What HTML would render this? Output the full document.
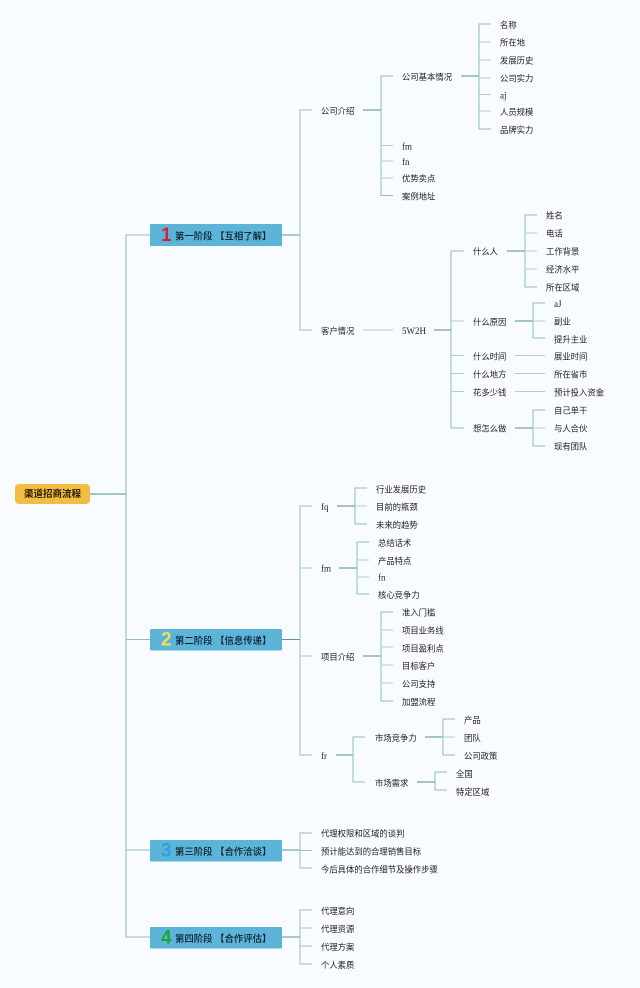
<!DOCTYPE html>
<html lang="zh"><head><meta charset="utf-8"><title>渠道招商流程</title>
<style>
html,body{margin:0;padding:0;background:#f8fbff;width:640px;height:988px;overflow:hidden}
svg{display:block;filter:blur(.3px)}
text{font-family:"Liberation Sans","Noto Sans CJK SC",sans-serif;font-size:8.35px;fill:#222;dominant-baseline:central}
.s{font-family:"Liberation Serif","Noto Serif CJK SC",serif;font-size:9px}
.n{font-size:9.4px;fill:#0d1d2b;font-weight:500}
.d{stroke:#4f8f84;fill:none;stroke-width:1}
.v{stroke:#8dbdb5;fill:none;stroke-width:1}
.h{stroke:#aed0ca;fill:none;stroke-width:1}
.g{stroke:#9dbdbd;fill:none;stroke-width:1}
.big{font-weight:bold;font-size:19px}
</style></head><body>
<svg width="640" height="988" viewBox="0 0 640 988" xmlns="http://www.w3.org/2000/svg">
<!-- trunk -->
<path d="M90 494H126" stroke="#6fa5a3" stroke-width="1.2" fill="none"/>
<path d="M150 235H126V937H150M126 639.5H150M126 850H150" stroke="#94bcbc" stroke-width="1.1" fill="none"/>
<path d="M282 235H300M282 639.5H300M282 850H300M282 937H300" stroke="#5f9490" fill="none"/>
<!-- stage 1 -->
<path class="g" d="M312 110H300V330H312"/>
<path class="d" d="M363 110H381"/><path class="v" d="M393 76H381V195.500H393"/>
<path class="h" d="M381 145.500H393M381 161H393M381 178H393"/>
<path class="d" d="M461 76H479"/><path class="v" d="M491 24H479V129H491"/>
<path class="h" d="M479 42H491M479 60H491M479 78H491M479 94.500H491M479 111H491"/>
<path class="h" d="M363 330H393"/>
<path class="d" d="M434 330H451"/><path class="v" d="M464 251H451V428H464"/>
<path class="h" d="M451 321H464M451 355.500H464M451 373.500H464M451 391.500H464"/>
<path class="d" d="M507 251H525"/><path class="v" d="M537 215H525V287H537"/>
<path class="h" d="M525 233H537M525 251H537M525 269H537"/>
<path class="d" d="M515 321H533"/><path class="v" d="M545 303H533V338H545"/><path class="h" d="M533 321H545"/>
<path class="h" d="M515 355.500H545M515 373.500H545M515 391.500H545"/>
<path class="d" d="M515 428H533"/><path class="v" d="M545 410H533V446H545"/><path class="h" d="M533 428H545"/>
<!-- stage 2 -->
<path class="g" d="M312 506H300V755H312M300 568H312M300 656H312"/>
<path class="d" d="M337 506H355"/><path class="v" d="M367 488H355V524H367"/><path class="h" d="M355 506H367"/>
<path class="d" d="M339 568H357"/><path class="v" d="M369 542H357V594H369"/><path class="h" d="M357 560H369M357 577H369"/>
<path class="d" d="M363 656H381"/><path class="v" d="M393 612H381V701H393"/><path class="h" d="M381 630H393M381 647H393M381 665H393M381 683H393"/>
<path class="d" d="M336 755H353"/><path class="v" d="M365 737H353V782H365"/>
<path class="d" d="M425 737H443"/><path class="v" d="M455 719H443V755H455"/><path class="h" d="M443 737H455"/>
<path class="d" d="M417 782H435"/><path class="v" d="M447 772H435V790H447"/>
<!-- stage 3 / 4 -->
<path class="g" d="M312 833H300V868H312M300 850.500H312"/>
<path class="g" d="M312 910H300V964H312M300 928H312M300 946H312"/>
<!-- root -->
<rect x="15" y="484" width="75" height="20" rx="4" fill="#f1bd42"/>
<text x="52.500" y="494.500" text-anchor="middle" style="font-size:9.500px;fill:#2a1c00;font-weight:bold">渠道招商流程</text>
<!-- stage nodes -->
<rect x="150" y="224" width="132" height="22" rx="1" fill="#5cb5d8"/>
<rect x="150" y="629" width="132" height="21.500" rx="1" fill="#5cb5d8"/>
<rect x="150" y="840" width="132" height="21.500" rx="1" fill="#5cb5d8"/>
<rect x="150" y="927" width="132" height="21.500" rx="1" fill="#5cb5d8"/>
<text class="big" x="161" y="235.500" style="fill:#d1213d">1</text>
<text class="big" x="161" y="640" style="fill:#f2dc5c">2</text>
<text class="big" x="161" y="851" style="fill:#2f9fe0">3</text>
<text class="big" x="161" y="938" style="fill:#1ea53a">4</text>
<text class="n" x="175" y="236">第一阶段 【互相了解】</text>
<text class="n" x="175" y="640.500">第二阶段 【信息传递】</text>
<text class="n" x="175" y="851.500">第三阶段 【合作洽谈】</text>
<text class="n" x="175" y="938.500">第四阶段 【合作评估】</text>
<!-- labels stage 1 -->
<text x="321" y="111">公司介绍</text>
<text x="402" y="77">公司基本情况</text>
<text x="500" y="25">名称</text><text x="500" y="42.500">所在地</text><text x="500" y="60.500">发展历史</text><text x="500" y="78.500">公司实力</text>
<text class="s" x="500" y="95.500">aj</text><text x="500" y="112">人员规模</text><text x="500" y="130">品牌实力</text>
<text class="s" x="402" y="146.500">fm</text><text class="s" x="402" y="162">fn</text>
<text x="402" y="178.500">优势卖点</text><text x="402" y="196.500">案例地址</text>
<text x="321" y="331">客户情况</text><text class="s" x="402" y="331">5W2H</text>
<text x="473" y="251.500">什么人</text><text x="473" y="322">什么原因</text><text x="473" y="356.500">什么时间</text><text x="473" y="374.500">什么地方</text><text x="473" y="392.500">花多少钱</text><text x="473" y="428.500">想怎么做</text>
<text x="546" y="215.500">姓名</text><text x="546" y="233.500">电话</text><text x="546" y="251.500">工作背景</text><text x="546" y="269.500">经济水平</text><text x="546" y="287.500">所在区域</text>
<text class="s" x="554" y="304">aJ</text><text x="554" y="321.500">副业</text><text x="554" y="339.500">提升主业</text>
<text x="554" y="356.500">展业时间</text><text x="554" y="374.500">所在省市</text><text x="554" y="392.500">预计投入资金</text>
<text x="554" y="410.500">自己单干</text><text x="554" y="428.500">与人合伙</text><text x="554" y="446.500">现有团队</text>
<!-- labels stage 2 -->
<text class="s" x="321" y="507">fq</text>
<text x="376" y="489.500">行业发展历史</text><text x="376" y="507">目前的瓶颈</text><text x="376" y="525">未来的趋势</text>
<text class="s" x="321" y="568.500">fm</text>
<text x="378" y="543">总结话术</text><text x="378" y="561">产品特点</text><text class="s" x="378" y="577.500">fn</text><text x="378" y="595">核心竞争力</text>
<text x="321" y="657">项目介绍</text>
<text x="402" y="612.500">准入门槛</text><text x="402" y="630.500">项目业务线</text><text x="402" y="648.500">项目盈利点</text><text x="402" y="666">目标客户</text><text x="402" y="684">公司支持</text><text x="402" y="702">加盟流程</text>
<text class="s" x="321" y="756">fr</text>
<text x="375" y="738">市场竞争力</text><text x="375" y="783">市场需求</text>
<text x="464" y="720">产品</text><text x="464" y="738">团队</text><text x="464" y="756">公司政策</text>
<text x="456" y="774">全国</text><text x="456" y="792">特定区域</text>
<!-- labels stage 3/4 -->
<text x="321" y="833.500">代理权限和区域的谈判</text><text x="321" y="851.500">预计能达到的合理销售目标</text><text x="321" y="869.500">今后具体的合作细节及操作步骤</text>
<text x="321" y="911">代理意向</text><text x="321" y="929">代理资源</text><text x="321" y="947">代理方案</text><text x="321" y="965">个人素质</text>
</svg>
</body></html>
